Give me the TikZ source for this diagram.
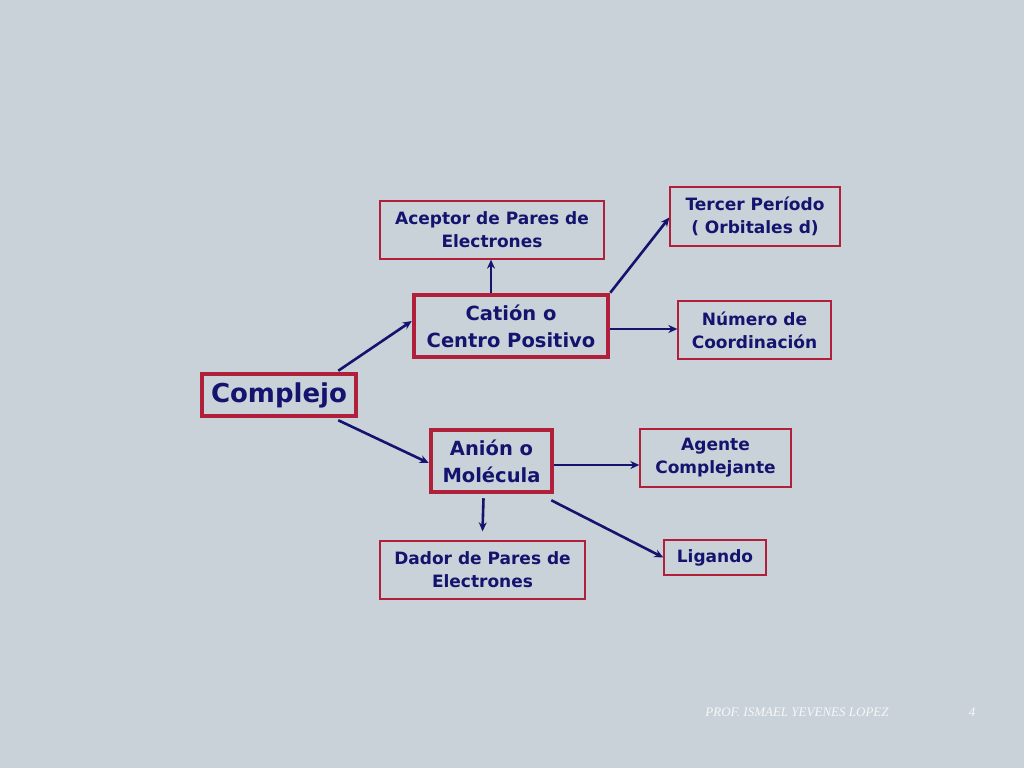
\documentclass[tikz,border=0pt]{standalone}
\usepackage{fontspec}
\setmainfont{DejaVu Sans}
\newfontfamily\footfont{Liberation Serif}
\usetikzlibrary{calc,arrows.meta}
\definecolor{bg}{HTML}{C8D2D8}
\definecolor{navy}{HTML}{14146E}
\definecolor{rbord}{HTML}{B0203A}
\begin{document}
\begin{tikzpicture}[x=1pt,y=-1pt,
  box/.style={draw=rbord,line width=1.3pt,fill=bg,text=navy,font=\bfseries\fontsize{17}{23}\selectfont,align=center,inner sep=0pt},
  bigbox/.style={box,line width=4.5pt},
  arr/.style={draw=navy,line width=2.6pt,-{Stealth[length=9pt,width=8pt]}}]
\fill[bg] (0,0) rectangle (1024,768);
\useasboundingbox (0,0) rectangle (1024,768);
\node[bigbox,minimum width=154,minimum height=42,font=\bfseries\fontsize{26}{30}\selectfont] (com) at (279,395) {Complejo};
\node[bigbox,minimum width=194,minimum height=62,font=\bfseries\fontsize{19.5}{27}\selectfont] (cat) at (511,326) {Catión o\\Centro Positivo};
\node[bigbox,minimum width=121,minimum height=62,font=\bfseries\fontsize{19.5}{27}\selectfont] (ani) at (491.5,461) {Anión o\\Molécula};
\node[box,minimum width=224,minimum height=58] (ace) at (492,230) {Aceptor de Pares de\\Electrones};
\node[box,minimum width=170,minimum height=59] (ter) at (755,216.5) {Tercer Período\\( Orbitales d)};
\node[box,minimum width=153,minimum height=58] (num) at (754.5,330) {Número de\\Coordinación};
\node[box,minimum width=151,minimum height=58] (age) at (715.5,458) {Agente\\Complejante};
\node[box,minimum width=205,minimum height=58] (dad) at (482.5,570) {Dador de Pares de\\Electrones};
\node[box,minimum width=102,minimum height=35] (lig) at (715,557.5) {Ligando};
\draw[arr] ($(com.north east)+(-20,-1)$) -- ($(cat.west)+(0,-5)$);
\draw[arr] ($(com.south east)+(-20,2)$) -- ($(ani.west)+(0,2)$);
\draw[arr] ($(cat.north)+(-20,0)$) -- ($(ace.south)+(-1,0)$);
\draw[arr] (cat.north east) -- ($(ter.west)+(0,1)$);
\draw[arr] ($(cat.east)+(0,3)$) -- ($(num.west)+(0,-1)$);
\draw[arr] ($(ani.east)+(0,4)$) -- ($(age.west)+(0,7)$);
\draw[arr] ($(ani.south)+(-8,4)$) -- ($(dad.north)+(0,-9)$);
\draw[arr] ($(ani.south east)+(-3,6)$) -- ($(lig.west)+(0,0)$);
\node[font=\footfont\itshape\fontsize{13}{15}\selectfont,text=white!85!bg] (foot) at (797,712) {PROF. ISMAEL YEVENES LOPEZ};
\node[font=\footfont\itshape\fontsize{13}{15}\selectfont,text=white!85!bg] (pg) at (972,712) {4};
\end{tikzpicture}
\end{document}
